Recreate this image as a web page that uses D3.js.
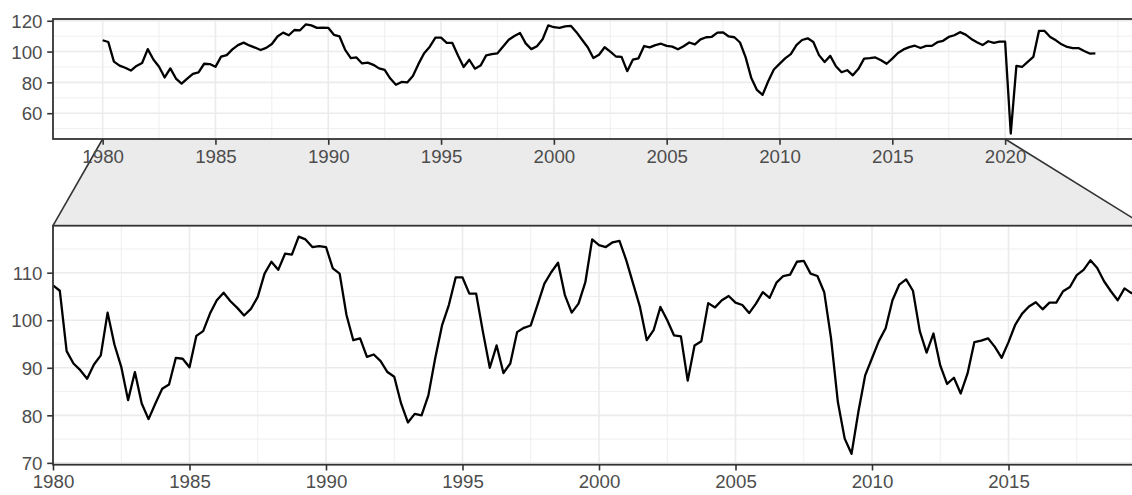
<!DOCTYPE html>
<html>
<head>
<meta charset="utf-8">
<script src="https://cdn.jsdelivr.net/npm/d3@7"></script>
<style>
  body { margin: 0; background: #ffffff; }
  svg text { font-family: "Liberation Sans", Arial, Helvetica, sans-serif; font-size: 18.7px; fill: #4d4d4d; }
</style>
</head>
<body>
<svg id="chart" width="1132" height="495"></svg>
<script>
// Quarterly index, first observation 1980 Q1
const startYear = 1980;
const quarterValues = [
  107.35, 106.2, 93.5, 90.9,
  89.5, 87.7, 90.7, 92.6,
  101.6, 94.9, 90.2, 83.2,
  89.1, 82.5, 79.2, 82.5,
  85.6, 86.5, 92.1, 91.9,
  90.1, 96.7, 97.7, 101.4,
  104.2, 105.8, 104.0, 102.6,
  101.0, 102.4, 104.9, 109.8,
  112.3, 110.6, 114.0, 113.8,
  117.6, 117.0, 115.4, 115.6,
  115.4, 110.9, 109.8, 101.1,
  95.8, 96.2, 92.3, 92.8,
  91.4, 89.1, 88.1, 82.5,
  78.5, 80.3, 80.0, 84.2,
  92.0, 98.9, 103.2, 109.0,
  109.0, 105.6, 105.6, 97.5,
  90.0, 94.7, 88.9, 90.9,
  97.5, 98.4, 98.9, 103.3,
  107.7, 110.1, 112.1, 105.3,
  101.6, 103.5, 108.0, 117.0,
  115.8, 115.4, 116.4, 116.7,
  112.6, 107.7, 102.8, 95.8,
  97.9, 102.8, 100.0, 96.8,
  96.6, 87.3, 94.7, 95.6,
  103.6, 102.7, 104.2, 105.1,
  103.7, 103.2, 101.5, 103.5,
  105.9, 104.7, 107.9, 109.3,
  109.6, 112.3, 112.5, 109.8,
  109.3, 105.9, 96.2, 82.8,
  75.1, 71.9, 80.7, 88.4,
  92.0, 95.6, 98.3, 104.2,
  107.5, 108.6, 106.2, 97.7,
  93.2, 97.2, 90.5, 86.6,
  87.9, 84.6, 88.8, 95.4,
  95.7, 96.2, 94.4, 92.1,
  95.4, 99.1, 101.4, 102.9,
  103.8, 102.3, 103.7, 103.7,
  106.1, 107.0, 109.5, 110.6,
  112.6, 111.0, 108.2, 106.1,
  104.2, 106.7, 105.7, 106.4,
  106.4, 46.8, 90.7, 90.0,
  93.3, 96.5, 113.4, 113.4,
  109.5, 107.3, 104.7, 103.0,
  102.3, 102.3, 100.4, 98.7,
  98.8
];

// Zoomed window on the time axis
const zoomRange = [1980, 2020];

// Axis breaks
const xBreaksOverview = [1980, 1985, 1990, 1995, 2000, 2005, 2010, 2015, 2020];
const xBreaksZoom = [1980, 1985, 1990, 1995, 2000, 2005, 2010, 2015];
const yBreaksOverview = [60, 80, 100, 120];
const yBreaksZoom = [70, 80, 90, 100, 110];

const series = quarterValues.map((v, i) => ({ t: startYear + i / 4, v }));

// Layout
const W = 1132, H = 495;
const left = 53, right = 1145;
const overview = { top: 19, bottom: 139 };
const zoomed = { top: 225.7, bottom: 464.7 };
const tickLen = 5.8, tickPad = 4.7, fontSize = 18.7;

const svg = d3.select("#chart");
svg.append("rect").attr("width", W).attr("height", H).attr("fill", "#ffffff");

function expand(ext, mult = 0.05) {
  const r = ext[1] - ext[0];
  return [ext[0] - r * mult, ext[1] + r * mult];
}

// Minor breaks: halfway points between majors, extended one step past each end
function minorBreaks(breaks, domain) {
  const step = breaks[1] - breaks[0];
  let b = breaks.slice();
  if (domain[0] < b[0]) b = [b[0] - step].concat(b);
  if (domain[1] > b[b.length - 1]) b = b.concat([b[b.length - 1] + step]);
  const out = [];
  for (let i = 0; i < b.length - 1; i++) { out.push(b[i], b[i] + step / 2); }
  out.push(b[b.length - 1]);
  return out.filter(v => v >= domain[0] && v <= domain[1] && !breaks.includes(v));
}

const xOverview = d3.scaleLinear().domain(expand(d3.extent(series, d => d.t))).range([left, right]);
const yOverview = d3.scaleLinear().domain(expand(d3.extent(series, d => d.v))).range([overview.bottom, overview.top]);

const inZoom = series.filter(d => d.t >= zoomRange[0] && d.t <= zoomRange[1]);
const xZoom = d3.scaleLinear().domain(zoomRange).range([left, right]);
const yZoom = d3.scaleLinear().domain(expand(d3.extent(inZoom, d => d.v))).range([zoomed.bottom, zoomed.top]);

// Connector between the overview window and the zoomed panel
svg.append("path")
  .attr("d", d3.line()([
    [xOverview(zoomRange[0]), overview.bottom],
    [xOverview(zoomRange[1]), overview.bottom],
    [xZoom.range()[1], zoomed.top],
    [xZoom.range()[0], zoomed.top]
  ]) + "Z")
  .attr("fill", "#ebebeb")
  .attr("stroke", "none");
svg.append("line")
  .attr("x1", xOverview(zoomRange[0])).attr("y1", overview.bottom)
  .attr("x2", xZoom.range()[0]).attr("y2", zoomed.top)
  .attr("stroke", "#333333").attr("stroke-width", 1.6);
svg.append("line")
  .attr("x1", xOverview(zoomRange[1])).attr("y1", overview.bottom)
  .attr("x2", xZoom.range()[1]).attr("y2", zoomed.top)
  .attr("stroke", "#333333").attr("stroke-width", 1.6);

function drawPanel(id, x, y, box, xBreaks, yBreaks) {
  const g = svg.append("g");
  const [x0, x1] = x.range();
  g.append("rect")
    .attr("x", x0).attr("y", box.top)
    .attr("width", x1 - x0).attr("height", box.bottom - box.top)
    .attr("fill", "#ffffff");

  const clipId = "clip-" + id;
  svg.append("clipPath").attr("id", clipId)
    .append("rect")
    .attr("x", x0).attr("y", box.top)
    .attr("width", x1 - x0).attr("height", box.bottom - box.top);

  const grid = g.append("g").attr("clip-path", `url(#${clipId})`);
  const xMinor = minorBreaks(xBreaks, x.domain());
  const yMinor = minorBreaks(yBreaks, y.domain());

  grid.selectAll(".xminor").data(xMinor).join("line")
    .attr("x1", d => x(d)).attr("x2", d => x(d))
    .attr("y1", box.top).attr("y2", box.bottom)
    .attr("stroke", "#ebebeb").attr("stroke-width", 0.8);
  grid.selectAll(".yminor").data(yMinor).join("line")
    .attr("x1", x0).attr("x2", x1)
    .attr("y1", d => y(d)).attr("y2", d => y(d))
    .attr("stroke", "#ebebeb").attr("stroke-width", 0.8);
  grid.selectAll(".xmajor").data(xBreaks).join("line")
    .attr("x1", d => x(d)).attr("x2", d => x(d))
    .attr("y1", box.top).attr("y2", box.bottom)
    .attr("stroke", "#ebebeb").attr("stroke-width", 1.6);
  grid.selectAll(".ymajor").data(yBreaks).join("line")
    .attr("x1", x0).attr("x2", x1)
    .attr("y1", d => y(d)).attr("y2", d => y(d))
    .attr("stroke", "#ebebeb").attr("stroke-width", 1.6);

  grid.append("path")
    .datum(series)
    .attr("d", d3.line().x(d => x(d.t)).y(d => y(d.v)))
    .attr("fill", "none")
    .attr("stroke", "#000000")
    .attr("stroke-width", 2.3)
    .attr("stroke-linejoin", "round");

  // Axes
  const xAxis = d3.axisBottom(x).tickValues(xBreaks).tickSize(tickLen).tickPadding(tickPad).tickFormat(d3.format("d"));
  const yAxis = d3.axisLeft(y).tickValues(yBreaks).tickSize(tickLen).tickPadding(tickPad).tickFormat(d3.format("d"));

  const gx = g.append("g").attr("transform", `translate(0,${box.bottom})`).call(xAxis);
  const gy = g.append("g").attr("transform", `translate(${x0},0)`).call(yAxis);
  [gx, gy].forEach(a => {
    a.select(".domain").remove();
    a.selectAll(".tick line").attr("stroke", "#333333").attr("stroke-width", 1.6);
    a.selectAll(".tick text").attr("fill", "#4d4d4d").style("font-size", fontSize + "px");
  });
  gx.selectAll(".tick text").attr("dy", "0.71em");
  gy.selectAll(".tick text").attr("dy", "0.36em");

  // Panel border
  g.append("rect")
    .attr("x", x0).attr("y", box.top)
    .attr("width", x1 - x0).attr("height", box.bottom - box.top)
    .attr("fill", "none").attr("stroke", "#333333").attr("stroke-width", 1.8);
}

drawPanel("overview", xOverview, yOverview, overview, xBreaksOverview, yBreaksOverview);
drawPanel("zoomed", xZoom, yZoom, zoomed, xBreaksZoom, yBreaksZoom);
</script>
</body>
</html>
